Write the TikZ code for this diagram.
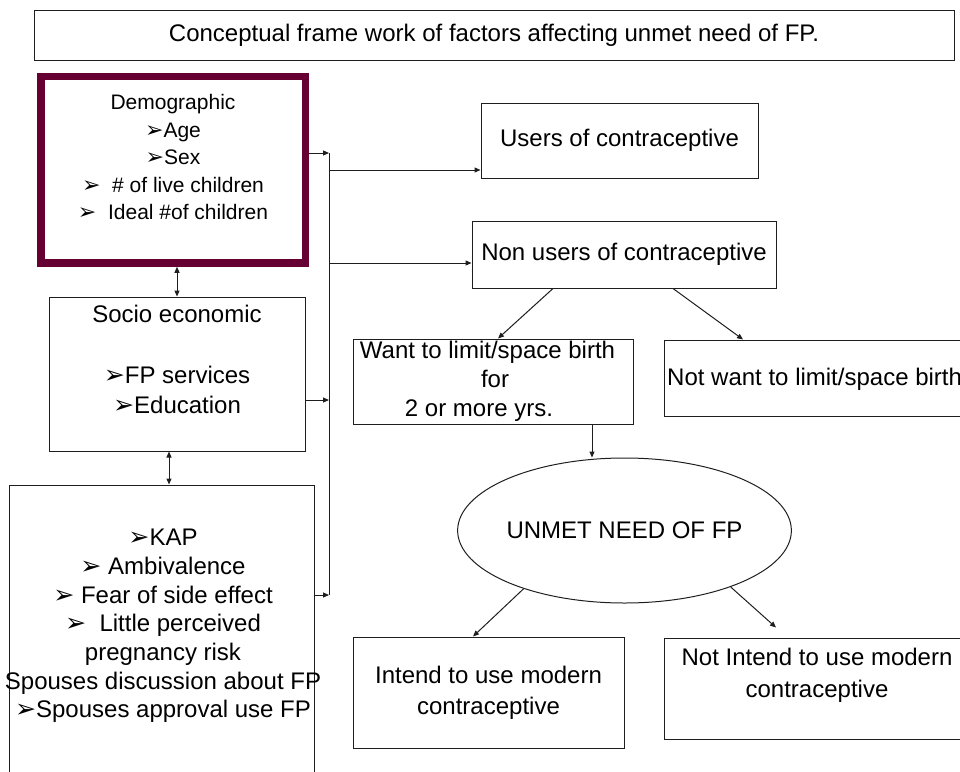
\documentclass[tikz,border=0pt]{standalone}
\usepackage{fontspec}
\setmainfont{Liberation Sans}
\newfontfamily\djfont[Scale=1.05]{DejaVu Sans}
\usetikzlibrary{arrows.meta,shapes.geometric}
\definecolor{maroon}{RGB}{102,0,51}
\definecolor{ln}{RGB}{30,30,30}
\newcommand\bul{{\djfont ➢}}
\begin{document}
\begin{tikzpicture}[x=1pt,y=-1pt,
  box/.style={draw=ln, line width=1pt, inner sep=0pt},
  txt/.style={font=\fontsize{24}{29}\selectfont, align=center, inner sep=0pt},
  conn/.style={draw=ln, line width=1pt},
  arr/.style={conn, -{Triangle[length=6pt,width=5pt]}},
  dbl/.style={conn, {Triangle[length=6pt,width=5pt]}-{Triangle[length=6pt,width=5pt]}}]
\useasboundingbox (0,0) rectangle (960,771);
\clip (0,0) rectangle (960,771);

% title
\node[box,txt, minimum width=920pt, minimum height=50pt] (title) at (494,35)
  {Conceptual frame work of factors affecting unmet need of FP.};

% left column
\node[draw=maroon, line width=7.5pt, minimum width=264.5pt, minimum height=186.5pt, inner sep=0pt] (demo) at (173.25,169.75) {};
\node[txt, font=\fontsize{21}{27.5}\selectfont] (demotext) at (173,157)
  {Demographic\\\bul Age\\\bul Sex\\\bul\ \ \# of live children\\\bul\ \ Ideal \#of children};

\node[box, minimum width=256pt, minimum height=154pt] (socio) at (177,374) {};
\node[txt, font=\fontsize{24}{30.3}\selectfont] (sociotext) at (177,359.5)
  {Socio economic\\[30.3pt]\bul FP services\\\bul Education};

\node[box, minimum width=305pt, minimum height=330pt] (kap) at (161.5,650) {};
\node[txt, font=\fontsize{24}{28.7}\selectfont] (kaptext) at (163,626)
  {\bul KAP\\\bul\ Ambivalence\\\bul\ Fear of side effect\\\bul\ \ Little perceived\\pregnancy risk\\Spouses discussion about FP\\\bul Spouses approval use FP};

% right part
\node[box,txt, minimum width=277pt, minimum height=75pt] (users) at (619.5,140.5) {Users of contraceptive};
\node[box,txt, minimum width=304pt, minimum height=67pt] (nonusers) at (624,254.5) {Non users of contraceptive};
\node[box,txt, minimum width=280pt, minimum height=85pt] (want) at (493,381.5)
  {Want to limit/space birth\hspace*{11pt}\\\hspace*{4pt}for\\2 or more yrs.\hspace*{28pt}};
\node[box, minimum width=336pt, minimum height=76pt] (notwant) at (832,378) {};
\node[txt, anchor=west] (notwanttext) at (667,379) {Not want to limit/space birth};

\node[draw=ln, line width=1pt, ellipse, minimum width=305pt, minimum height=145pt, inner sep=0pt,
  font=\fontsize{24}{29}\selectfont] (unmet) at (624.5,530.5) {UNMET NEED OF FP};

\node[box,txt, font=\fontsize{24}{31}\selectfont, minimum width=271pt, minimum height=111pt] (intend) at (488.5,692.5)
  {Intend to use modern\\contraceptive};
\node[box, minimum width=336pt, minimum height=101pt] (notintend) at (832,688.5) {};
\node[txt, font=\fontsize{24}{32}\selectfont] (notintendtext) at (817,675)
  {Not Intend to use modern\\contraceptive};

% bus and connectors
\coordinate (bt) at (329,153);
\coordinate (bb) at (329,595);
\coordinate (j2) at (329,400);
\coordinate (o1) at (329,170);
\coordinate (o2) at (329,263);
\draw[conn] (bt) -- (bb);
\draw[arr] (demo.east |- bt) -- (bt);
\draw[arr] (socio.east |- j2) -- (j2);
\draw[arr] (kap.east |- bb) -- (bb);
\draw[arr] (o1) -- (users.west |- o1);
\draw[arr] (o2) -- (nonusers.west |- o2);
\draw[dbl] (socio.north |- demo.south) -- (socio.north);
\draw[dbl] ([xshift=-8pt]socio.south) -- ([xshift=-8pt]socio.south |- kap.north);
\draw[arr] ([xshift=-71pt]nonusers.south) -- ([xshift=5pt]want.north);
\draw[arr] ([xshift=49pt]nonusers.south) -- ([xshift=-89pt]notwant.north);
\draw[arr] ([xshift=99pt]want.south) -- ([xshift=99pt]want.south |- unmet.north);
\draw[arr] (unmet.210) -- ([xshift=-15.5pt]intend.north);
\draw[arr] (unmet.332) -- ([xshift=-56pt,yshift=10pt]notintend.north);
\end{tikzpicture}
\end{document}
